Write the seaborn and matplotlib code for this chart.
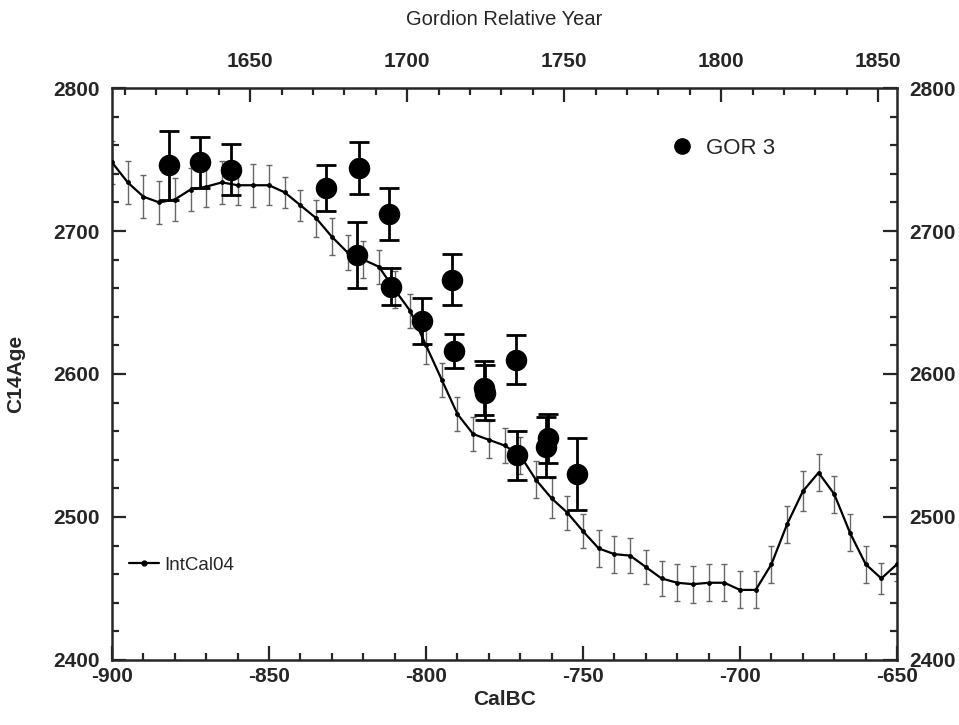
import matplotlib
matplotlib.use("Agg")
import matplotlib.pyplot as plt
from matplotlib.lines import Line2D
from matplotlib.ticker import MultipleLocator, FixedLocator
import seaborn as sns
import pandas as pd

# IntCal04 calibration curve (5-year steps)
cal_years = [-900, -895, -890, -885, -880, -875, -870, -865, -860, -855,
             -850, -845, -840, -835, -830, -825, -820, -815, -810, -805,
             -800, -795, -790, -785, -780, -775, -770, -765, -760, -755,
             -750, -745, -740, -735, -730, -725, -720, -715, -710, -705,
             -700, -695, -690, -685, -680, -675, -670, -665, -660, -655, -650]
cal_age = [2748, 2734, 2724, 2720, 2722, 2729, 2731, 2734, 2732, 2732,
           2732, 2727, 2718, 2709, 2696, 2685, 2680, 2675, 2659, 2644,
           2620, 2596, 2572, 2558, 2554, 2550, 2543, 2526, 2513, 2503,
           2490, 2478, 2474, 2473, 2465, 2457, 2454, 2453, 2454, 2454,
           2449, 2449, 2467, 2495, 2518, 2531, 2516, 2489, 2467, 2457, 2467]
cal_err = [15, 15, 15, 15, 15, 15, 14, 15, 14, 15,
           14, 11, 11, 13, 13, 12, 13, 12, 13, 12,
           13, 12, 12, 12, 13, 12, 13, 13, 14, 12,
           12, 13, 13, 12, 12, 12, 13, 13, 13, 13,
           13, 13, 13, 13, 14, 13, 13, 13, 13, 11, 12]

# GOR 3 samples
gor_x = [-882, -872, -862, -832, -821.3, -811.7, -822, -811.3, -801.4,
         -791.6, -791.1, -781.4, -781.2, -771.3, -771.1, -761.3, -761.7, -751.8]
gor_age = [2746, 2748, 2743, 2730, 2744, 2712, 2683, 2661, 2637,
           2666, 2616, 2590, 2587, 2610, 2543, 2555, 2549, 2530]
gor_err = [24, 18, 18, 16, 18, 18, 23, 13, 16,
           18, 12, 19, 19, 17, 17, 17, 21, 25]

# top axis labels (Gordion relative years) and offset to CalBC
rel_ticks = [1650, 1700, 1750, 1800, 1850]
year_offset = 2506

df_cal = pd.DataFrame({"CalBC": cal_years, "C14Age": cal_age, "err": cal_err})
df_gor = pd.DataFrame({"CalBC": gor_x, "C14Age": gor_age, "err": gor_err})

sns.set_style("ticks")
plt.rcParams["font.family"] = ["Liberation Sans", "DejaVu Sans"]
plt.rcParams["axes.unicode_minus"] = False

fig = plt.figure(figsize=(9.59, 7.25), dpi=100)
ax = fig.add_axes([0.1168, 0.0897, 0.8186, 0.7889])

ax.errorbar(df_cal["CalBC"], df_cal["C14Age"], yerr=df_cal["err"], fmt="none",
            ecolor="0.4", elinewidth=1, capsize=2.5, capthick=1, zorder=2)
sns.lineplot(data=df_cal, x="CalBC", y="C14Age", ax=ax, color="black", lw=1.6,
             marker="o", markersize=3.5, markeredgewidth=0, zorder=3)

ax.errorbar(df_gor["CalBC"], df_gor["C14Age"], yerr=df_gor["err"], fmt="none",
            ecolor="black", elinewidth=2, capsize=7, capthick=2, zorder=4)
sns.scatterplot(data=df_gor, x="CalBC", y="C14Age", ax=ax, color="black",
                s=240, edgecolor="black", linewidth=0, zorder=5)

ax.set_xlim(-900, -650)
ax.set_ylim(2400, 2800)
ax.xaxis.set_major_locator(MultipleLocator(50))
ax.xaxis.set_minor_locator(MultipleLocator(10))
ax.yaxis.set_major_locator(MultipleLocator(100))
ax.yaxis.set_minor_locator(MultipleLocator(20))

ax.tick_params(which="both", direction="in", right=True, labelright=True,
               width=1.6, labelsize=15)
ax.tick_params(which="major", length=10)
ax.tick_params(which="minor", length=5)
ax.tick_params(axis="y", which="major", pad=9)
ax.tick_params(axis="x", which="major", pad=5)
for lab in ax.get_xticklabels() + ax.get_yticklabels():
    lab.set_fontweight("bold")
for s in ax.spines.values():
    s.set_linewidth(1.8)
    s.set_visible(True)

ax.set_xlabel("CalBC", fontsize=15, fontweight="bold", labelpad=3)
ax.set_ylabel("C14Age", fontsize=15, fontweight="bold", labelpad=20)

top = ax.secondary_xaxis("top", functions=(lambda x: x + year_offset,
                                           lambda x: x - year_offset))
top.xaxis.set_major_locator(FixedLocator(rel_ticks))
top.xaxis.set_minor_locator(MultipleLocator(10))
top.tick_params(which="both", direction="in", width=1.6, labelsize=15, pad=12)
top.tick_params(which="major", length=10)
top.tick_params(which="minor", length=5)
for lab in top.get_xticklabels():
    lab.set_fontweight("bold")
top.set_xlabel("Gordion Relative Year", fontsize=14.5, labelpad=20)

gor_handle = Line2D([], [], color="black", marker="o", markersize=11, linestyle="none")
leg1 = ax.legend([gor_handle], ["GOR 3"], loc="center left", bbox_to_anchor=(0.672, 0.895),
                 frameon=False, fontsize=16, handletextpad=0.1)
ax.add_artist(leg1)
cal_handle = Line2D([], [], color="black", lw=1.6, marker="o", markersize=3.5)
ax.legend([cal_handle], ["IntCal04"], loc="center left", bbox_to_anchor=(0.0, 0.166),
          frameon=False, fontsize=13.5, handlelength=1.6, handletextpad=0.3)

fig.savefig("out.png", dpi=100)
